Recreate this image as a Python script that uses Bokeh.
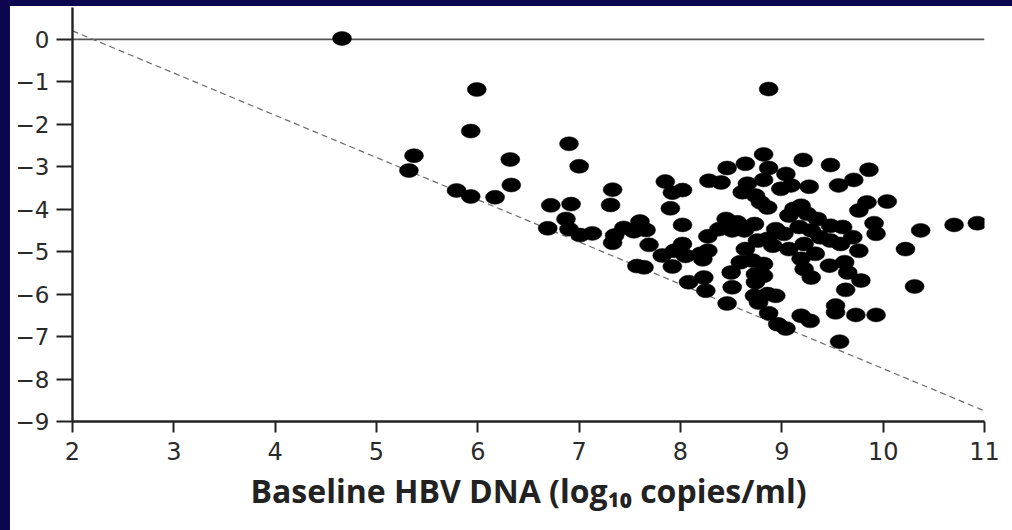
from bokeh.plotting import figure
from bokeh.models import Range1d, FixedTicker, ColumnDataSource
from bokeh.embed import file_html
from bokeh.resources import INLINE

# Baseline HBV DNA (log10 copies/ml) and change in HBV DNA (log10 copies/ml)
baseline = [
    4.66, 5.99, 8.87, 5.93, 5.37, 5.32, 6.32, 6.33, 5.79, 5.93, 6.17, 6.90, 7.00,
    6.72, 6.92, 7.33, 7.31, 6.87, 6.69, 6.90, 7.01, 7.13, 7.35, 7.33, 7.44, 7.60,
    7.66, 7.54, 7.69, 7.57, 7.64, 7.85, 7.92, 8.02, 7.90, 8.02, 7.82, 7.94, 8.02,
    8.05, 7.92, 8.08, 8.20, 8.27, 8.27, 8.28, 8.23, 8.25, 8.22,
    8.82, 9.21, 8.64, 8.46, 8.87, 8.40, 8.66, 8.82, 9.04, 9.09, 9.27, 8.61, 8.74,
    8.99, 8.79, 8.86, 9.12, 9.19, 9.07, 9.25, 8.45, 8.56, 8.73, 8.38, 8.51, 8.63,
    8.94, 9.02, 9.17, 9.29, 8.76, 8.86, 8.64, 8.91, 9.07, 9.22, 8.59, 8.71, 8.82,
    9.19, 9.22, 8.50, 8.74, 8.82, 9.29, 8.74, 8.51, 8.73, 8.86, 8.94, 8.77, 8.46,
    8.87, 8.96, 9.04, 9.19, 9.28,
    9.48, 9.86, 9.71, 9.56, 9.84, 10.04, 9.76, 9.91, 9.93, 9.35, 9.48, 9.60, 9.70,
    9.38, 9.48, 9.58, 9.76, 9.33, 9.47, 9.62, 9.65, 9.78, 9.63, 9.53, 9.53, 9.73,
    9.93, 9.57, 10.37, 10.22, 10.70, 10.93, 10.31,
]
change = [
    0.02, -1.18, -1.17, -2.16, -2.74, -3.09, -2.83, -3.43, -3.56, -3.70, -3.72, -2.46, -2.99,
    -3.91, -3.88, -3.54, -3.90, -4.23, -4.45, -4.47, -4.61, -4.57, -4.62, -4.79, -4.44, -4.29,
    -4.49, -4.52, -4.84, -5.34, -5.37, -3.35, -3.61, -3.55, -3.98, -4.37, -5.09, -4.98, -4.82,
    -5.10, -5.35, -5.72, -5.05, -4.98, -4.64, -3.33, -5.61, -5.92, -5.18,
    -2.71, -2.84, -2.93, -3.03, -3.03, -3.37, -3.40, -3.31, -3.17, -3.44, -3.47, -3.60, -3.68,
    -3.52, -3.84, -3.96, -3.99, -3.92, -4.15, -4.11, -4.23, -4.31, -4.35, -4.47, -4.50, -4.50,
    -4.47, -4.58, -4.42, -4.50, -4.74, -4.70, -4.94, -4.86, -4.94, -4.82, -5.25, -5.21, -5.29,
    -5.17, -5.41, -5.49, -5.53, -5.57, -5.61, -5.72, -5.84, -6.04, -6.00, -6.04, -6.20, -6.22,
    -6.45, -6.71, -6.81, -6.51, -6.63,
    -2.96, -3.07, -3.31, -3.44, -3.84, -3.82, -4.03, -4.33, -4.58, -4.23, -4.39, -4.42, -4.66,
    -4.66, -4.74, -4.82, -4.98, -5.05, -5.33, -5.25, -5.49, -5.68, -5.90, -6.27, -6.43, -6.49,
    -6.49, -7.12, -4.50, -4.94, -4.37, -4.33, -5.82,
]
x_ticks = [2, 3, 4, 5, 6, 7, 8, 9, 10, 11]
y_ticks = [0, -1, -2, -3, -4, -5, -6, -7, -8, -9]
ref_x = [2, 11]
zero_line = [0, 0]
dash_line = [0.2, -8.75]
x_label = "Baseline HBV DNA (log\u2081\u2080 copies/ml)"

NAVY = "#0c0550"

p = figure(width=1002, height=524, output_backend="svg", toolbar_location=None,
           x_range=Range1d(2, 11), y_range=Range1d(-9, 0.75),
           min_border_left=62, min_border_right=28, min_border_top=1, min_border_bottom=109,
           background_fill_color="white", border_fill_color="white")
p.outline_line_color = None
p.grid.visible = False

p.line(ref_x, zero_line, line_color="#555555", line_width=1.6)
p.line(ref_x, dash_line, line_color="#6a6a6a", line_width=1.2, line_dash="6 4")

src = ColumnDataSource(dict(x=baseline, y=change))
p.ellipse(x="x", y="y", width=19, height=14, width_units="screen", height_units="screen",
          source=src, fill_color="black", line_color="black", line_width=0.5)

for ax in (p.xaxis[0], p.yaxis[0]):
    ax.axis_line_color = "#222222"
    ax.axis_line_width = 2.4
    ax.major_tick_line_color = "#222222"
    ax.major_tick_line_width = 2
    ax.major_tick_in = 0
    ax.minor_tick_line_color = None
    ax.major_label_text_font = "DejaVu Sans"
    ax.major_label_text_color = "#2a2a2a"

p.xaxis.ticker = FixedTicker(ticks=x_ticks)
p.xaxis.major_tick_out = 11
p.xaxis.major_label_text_font_size = "24px"
p.xaxis.major_label_standoff = 9
p.xaxis.axis_label = x_label
p.xaxis.axis_label_text_font = "Open Sans"
p.xaxis.axis_label_text_font_style = "bold"
p.xaxis.axis_label_text_font_size = "32px"
p.xaxis.axis_label_text_color = "#222222"
p.xaxis.axis_label_standoff = 6

p.yaxis.ticker = FixedTicker(ticks=y_ticks)
p.yaxis.major_tick_out = 16
p.yaxis.major_label_text_font_size = "23px"
p.yaxis.major_label_standoff = 7
p.yaxis.major_label_overrides = {t: ("\u2212" + str(-t) if t < 0 else str(t)) for t in y_ticks}

html = file_html(p, INLINE)
style = ("<style>html,body{margin:0;padding:0;background:white;}"
         "body{border-left:10px solid %s;border-top:6px solid %s;}</style>" % (NAVY, NAVY))
html = html.replace("</head>", style + "</head>", 1)
open("out.html", "w").write(html)
